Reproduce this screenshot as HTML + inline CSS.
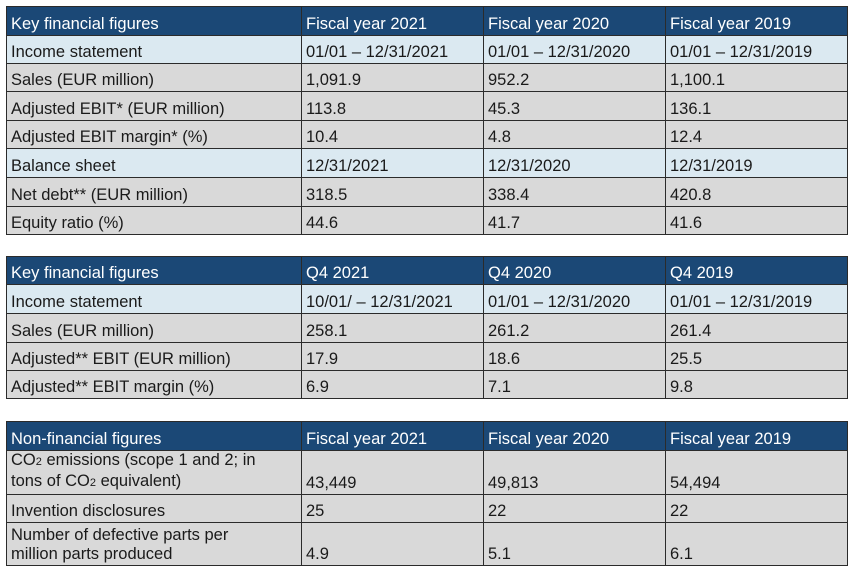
<!DOCTYPE html>
<html><head><meta charset="utf-8"><style>
body{margin:0;width:850px;height:567px;background:#fff;position:relative;font-family:"Liberation Sans",Arial,sans-serif;overflow:hidden}
table{position:absolute;left:6px;border-collapse:collapse;table-layout:fixed;width:841px}
td{border:1.5px solid #2b2b2b;padding:0 0 1px 4px;vertical-align:bottom;font-size:16.5px;line-height:19px;color:#1a1a1a;background:#d9d9d9;white-space:nowrap;overflow:hidden}
tr.h td{background:#1b4876;color:#fff}
tr.b td{background:#dbe9f1}
</style></head><body>
<table style="top:6px">
<colgroup><col style="width:295px"><col style="width:182px"><col style="width:182px"><col style="width:182px"></colgroup>
<tr class="h" style="height:29px"><td>Key financial figures</td><td>Fiscal year 2021</td><td>Fiscal year 2020</td><td>Fiscal year 2019</td></tr>
<tr class="b" style="height:28px"><td>Income statement</td><td>01/01 – 12/31/2021</td><td>01/01 – 12/31/2020</td><td>01/01 – 12/31/2019</td></tr>
<tr style="height:28px"><td>Sales (EUR million)</td><td>1,091.9</td><td>952.2</td><td>1,100.1</td></tr>
<tr style="height:29px"><td>Adjusted EBIT* (EUR million)</td><td>113.8</td><td>45.3</td><td>136.1</td></tr>
<tr style="height:28px"><td>Adjusted EBIT margin* (%)</td><td>10.4</td><td>4.8</td><td>12.4</td></tr>
<tr class="b" style="height:29px"><td>Balance sheet</td><td>12/31/2021</td><td>12/31/2020</td><td>12/31/2019</td></tr>
<tr style="height:29px"><td>Net debt** (EUR million)</td><td>318.5</td><td>338.4</td><td>420.8</td></tr>
<tr style="height:28px"><td>Equity ratio (%)</td><td>44.6</td><td>41.7</td><td>41.6</td></tr>
</table>
<table style="top:256px">
<colgroup><col style="width:295px"><col style="width:182px"><col style="width:182px"><col style="width:182px"></colgroup>
<tr class="h" style="height:28px"><td>Key financial figures</td><td>Q4 2021</td><td>Q4 2020</td><td>Q4 2019</td></tr>
<tr class="b" style="height:29px"><td>Income statement</td><td>10/01/ – 12/31/2021</td><td>01/01 – 12/31/2020</td><td>01/01 – 12/31/2019</td></tr>
<tr style="height:29px"><td>Sales (EUR million)</td><td>258.1</td><td>261.2</td><td>261.4</td></tr>
<tr style="height:28px"><td>Adjusted** EBIT (EUR million)</td><td>17.9</td><td>18.6</td><td>25.5</td></tr>
<tr style="height:28px"><td>Adjusted** EBIT margin (%)</td><td>6.9</td><td>7.1</td><td>9.8</td></tr>
</table>
<table style="top:421px">
<colgroup><col style="width:295px"><col style="width:182px"><col style="width:182px"><col style="width:182px"></colgroup>
<tr class="h" style="height:29px"><td>Non-financial figures</td><td>Fiscal year 2021</td><td>Fiscal year 2020</td><td>Fiscal year 2019</td></tr>
<tr style="height:43px"><td>CO<span style="font-size:11px">2</span> emissions (scope 1 and 2; in<br>tons of CO<span style="font-size:11px">2</span> equivalent)</td><td>43,449</td><td>49,813</td><td>54,494</td></tr>
<tr style="height:28px"><td>Invention disclosures</td><td>25</td><td>22</td><td>22</td></tr>
<tr style="height:43px"><td>Number of defective parts per<br>million parts produced</td><td>4.9</td><td>5.1</td><td>6.1</td></tr>
</table>
</body></html>
